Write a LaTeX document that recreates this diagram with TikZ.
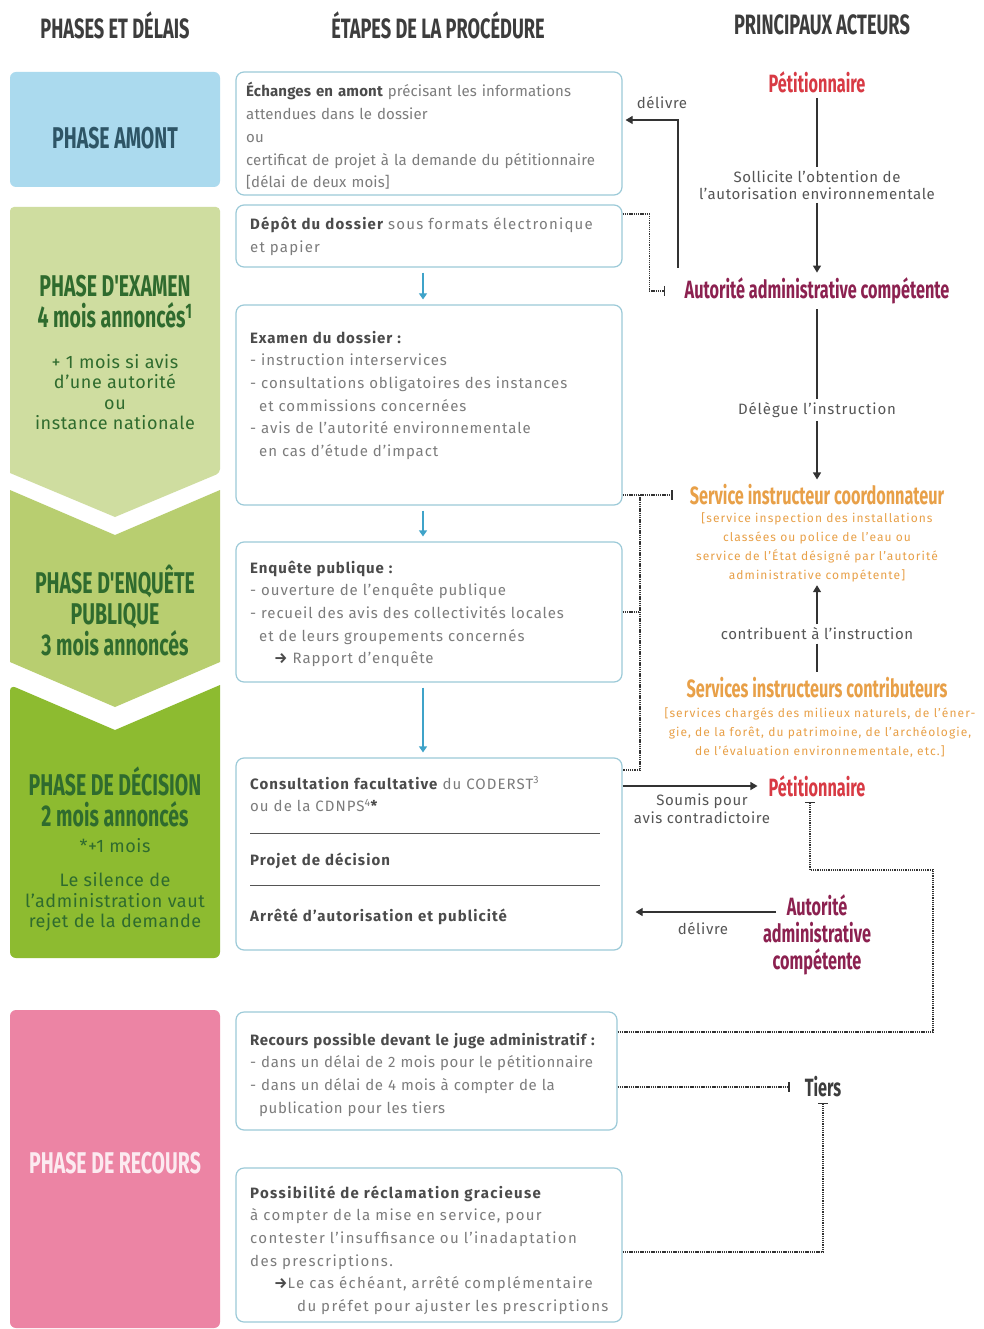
\documentclass[tikz,border=0pt]{standalone}
\usepackage{fontspec}
\setmainfont{Fira Sans}
\newfontfamily\condfont[FakeStretch=0.65]{Fira Sans}
\usetikzlibrary{arrows.meta,positioning}

\definecolor{headgray}{HTML}{3D3D3D}
\definecolor{txtgray}{HTML}{7C7C7C}
\definecolor{boldgray}{HTML}{4B4B4B}
\definecolor{labgray}{HTML}{555555}
\definecolor{boxline}{HTML}{9CCAD8}
\definecolor{amontblue}{HTML}{ABDAEE}
\definecolor{amonttxt}{HTML}{2E5566}
\definecolor{examgreen}{HTML}{CFDDA0}
\definecolor{enqgreen}{HTML}{B8CE70}
\definecolor{decgreen}{HTML}{8DBB30}
\definecolor{phasetxt}{HTML}{2F6B2E}
\definecolor{recpink}{HTML}{EC84A4}
\definecolor{recwhite}{HTML}{FCEAF0}
\definecolor{petired}{HTML}{D83A44}
\definecolor{autormag}{HTML}{8C2150}
\definecolor{servorange}{HTML}{E8A048}
\definecolor{flowblue}{HTML}{3FA3C9}
\definecolor{linedark}{HTML}{333333}

\newcommand{\fort}[1]{\textcolor{boldgray}{\bfseries #1}}

\tikzset{
  coltitle/.style={font=\condfont\bfseries\fontsize{28}{30}\selectfont, text=headgray},
  phasetitle/.style={font=\condfont\bfseries\fontsize{30}{31}\selectfont, align=center},
  phasesmall/.style={font=\addfontfeatures{LetterSpace=3}\fontsize{18}{20.5}\selectfont, align=center, text=phasetxt},
  etape/.style={draw=boxline, line width=1.2pt, rounded corners=8pt, minimum width=386pt, inner sep=0pt},
  etapetxt/.style={anchor=base west, inner sep=0pt, align=left, text width=372pt, text=txtgray, font=\addfontfeatures{LetterSpace=#1}\fontsize{15}{22.7}\selectfont},
  etapetxt/.default=1,
  acteur/.style={font=\condfont\bfseries\fontsize{25}{27}\selectfont, align=center, inner sep=5pt},
  note/.style={font=\addfontfeatures{LetterSpace=4}\fontsize{15}{17}\selectfont, align=center, text=labgray},
  detail/.style={font=\addfontfeatures{LetterSpace=9}\fontsize{12}{19}\selectfont, align=center, text=servorange},
  trait/.style={draw=linedark, line width=1.2pt},
  fleche/.style={draw=linedark, line width=1.2pt, -{Triangle[width=8pt,length=7pt]}},
  flux/.style={draw=flowblue, line width=1.2pt, -{Triangle[width=8pt,length=6pt]}, shorten <=5pt, shorten >=5pt},
  lien/.style={draw=linedark, line width=1.6pt, dash pattern=on 1.3pt off 0.9pt, -{Bar[width=10pt,line width=1.6pt]}},
  lienplain/.style={draw=linedark, line width=1.6pt, dash pattern=on 1.3pt off 0.9pt},
}

\begin{document}
\begin{tikzpicture}[x=1pt,y=-1pt]
\useasboundingbox[fill=white] (0,0) rectangle (984,1329);

% column titles
\node[coltitle] (h1) at (115,25) {PHASES ET DÉLAIS};
\node[coltitle] (h2) at (438,25) {ÉTAPES DE LA PROCÉDURE};
\node[coltitle] (h3) at (822,25) {PRINCIPAUX ACTEURS};

% phases
\fill[amontblue, rounded corners=6pt] (10,72) rectangle (220,187);
\fill[examgreen, rounded corners=4pt] (10,207) -- (220,207) -- (220,473) [sharp corners] -- (115,517) -- (10,473) [rounded corners=4pt] -- cycle;
\fill[enqgreen] (10,490) -- (115,535) -- (220,490) -- (220,662) -- (115,707) -- (10,662) -- cycle;
\fill[decgreen, rounded corners=6pt] (10,685) [sharp corners] -- (115,730) -- (220,685) [rounded corners=6pt] -- (220,958) -- (10,958) -- cycle;
\fill[recpink, rounded corners=6pt] (10,1010) rectangle (220,1328);

\node[phasetitle, text=amonttxt] (pamont) at (115,138) {PHASE AMONT};
\node[phasetitle, text=phasetxt] (pexam) at (115,302) {PHASE D'EXAMEN\\4 mois annoncés\textsuperscript{1}};
\node[phasesmall] (pexamdelai) at (115,392) {+ 1 mois si avis\\d'une autorité\\ou\\instance nationale};
\node[phasetitle, text=phasetxt] (penq) at (115,611) {PHASE D'ENQUÊTE\\PUBLIQUE\\3 mois annoncés};
\node[phasetitle, text=phasetxt] (pdec) at (115,797) {PHASE DE DÉCISION\\2 mois annoncés};
\node[phasesmall] (pdecplus) at (115,846) {*+1 mois};
\node[phasesmall] (pdecsilence) at (115,902) {Le silence de\\l'administration vaut\\rejet de la demande};
\node[phasetitle, text=recwhite] (prec) at (115,1163) {PHASE DE RECOURS};

% etapes
\node[etape, minimum height=123pt] (echanges) at (429,133.5) {};
\node[etapetxt] (echangestxt) at (246,97) {\fort{Échanges en amont} précisant les informations\\attendues dans le dossier\\ou\\certificat de projet à la demande du pétitionnaire\\{[}délai de deux mois{]}};
\node[etape, minimum height=62pt] (depot) at (429,236) {};
\node[etapetxt=8] (depottxt) at (250,230) {\fort{Dépôt du dossier} sous formats électronique\\et papier};
\node[etape, minimum height=200pt] (examen) at (429,405) {};
\node[etapetxt=6] (examentxt) at (250,343) {\fort{Examen du dossier :}\\- instruction interservices\\- consultations obligatoires des instances\\\hspace*{9pt}et commissions concernées\\- avis de l'autorité environnementale\\\hspace*{9pt}en cas d'étude d'impact};
\node[etape, minimum height=140pt] (enquete) at (429,612) {};
\node[etapetxt=6] (enquetetxt) at (250,573) {\fort{Enquête publique :}\\- ouverture de l'enquête publique\\- recueil des avis des collectivités locales\\\hspace*{9pt}et de leurs groupements concernés\\\hspace*{24pt}\textcolor{boldgray}{\bfseries →} Rapport d'enquête};
\node[etape, minimum height=192pt] (decision) at (429,854) {};
\node[etapetxt=7] (consulttxt) at (250,789) {\fort{Consultation facultative} du CODERST\textsuperscript{3}\\ou de la CDNPS\textsuperscript{4}\textcolor{boldgray}{\bfseries*}};
\node[etapetxt=7] (projettxt) at (250,865) {\fort{Projet de décision}};
\node[etapetxt=7] (arretetxt) at (250,921) {\fort{Arrêté d'autorisation et publicité}};
\draw[draw=labgray, line width=0.8pt] (250,833) -- (600,833);
\draw[draw=labgray, line width=0.8pt] (250,885) -- (600,885);
\node[etape, minimum height=118pt, minimum width=381pt] (recours) at (426.5,1071) {};
\node[etapetxt=4] (recourstxt) at (250,1045) {\fort{Recours possible devant le juge administratif :}\\- dans un délai de 2 mois pour le pétitionnaire\\- dans un délai de 4 mois à compter de la\\\hspace*{9pt}publication pour les tiers};
\node[etape, minimum height=154pt] (reclamation) at (429,1245) {};
\node[etapetxt=9] (reclamationtxt) at (250,1198) {\fort{Possibilité de réclamation gracieuse}\\à compter de la mise en service, pour\\contester l'insuffisance ou l'inadaptation\\des prescriptions.\\\hspace*{24pt}\textcolor{boldgray}{\bfseries →}Le cas échéant, arrêté complémentaire\\\hspace*{47pt}du préfet pour ajuster les prescriptions};

\draw[flux] ([xshift=-6pt]depot.south) -- ([xshift=-6pt]examen.north);
\draw[flux] ([xshift=-6pt]examen.south) -- ([xshift=-6pt]enquete.north);
\draw[flux] ([xshift=-6pt]enquete.south) -- ([xshift=-6pt]decision.north);

% acteurs
\node[acteur, text=petired] (petit1) at (817,82) {Pétitionnaire};
\node[note] (sollicite) at (817,185) {Sollicite l'obtention de\\l'autorisation environnementale};
\node[acteur, text=autormag] (autor1) at (817,291) {Autorité administrative compétente};
\node[note, font=\addfontfeatures{LetterSpace=6}\fontsize{15}{17}\selectfont] (delegue) at (817,410) {Délègue l'instruction};
\node[acteur, text=servorange] (servcoord) at (817,495) {Service instructeur coordonnateur};
\node[detail] (servcoordtxt) at (817,547) {{[}service inspection des installations\\classées ou police de l'eau ou\\service de l'État désigné par l'autorité\\administrative compétente{]}};
\node[note] (contrib) at (817,634) {contribuent à l'instruction};
\node[acteur, text=servorange] (servcontrib) at (817,688) {Services instructeurs contributeurs};
\node[detail] (servcontribtxt) at (820,733) {{[}services chargés des milieux naturels, de l'éner-\\gie, de la forêt, du patrimoine, de l'archéologie,\\de l'évaluation environnementale, etc.{]}};
\node[acteur, text=petired] (petit2) at (817,786) {Pétitionnaire};
\node[note, font=\addfontfeatures{LetterSpace=4}\fontsize{15}{18}\selectfont] (soumis) at (702,809) {Soumis pour\\avis contradictoire};
\node[acteur, text=autormag] (autor2) at (817,935) {Autorité\\administrative\\compétente};
\node[note] (delivre2) at (703,929) {délivre};
\node[acteur, text=headgray] (tiers) at (823,1087) {Tiers};
\node[note] (delivre1) at (662,103) {délivre};

\coordinate (dlvpied) at (678,268);
\coordinate (dlvcoin) at (678,120);
\coordinate (jonction) at (640,495);
\coordinate (jbas) at (640,770);
\coordinate (retour) at (933,870);
\coordinate (autorpied) at (776,912);

\draw[trait] (petit1) -- (sollicite);
\draw[fleche] (sollicite) -- (autor1);
\draw[trait] (autor1) -- (delegue);
\draw[fleche] (delegue) -- (servcoord);
\draw[fleche] (contrib) -- (servcoordtxt);
\draw[trait] (contrib) -- (servcontrib);
\draw[fleche, shorten >=3pt] (dlvpied) -- (dlvcoin) -- (echanges.east |- dlvcoin);
\draw[fleche, shorten >=6pt] (decision.east |- petit2) -- (petit2.west);
\draw[fleche, shorten >=13pt] (autorpied) -- (decision.east |- autorpied);

\draw[lien] ([yshift=22pt]depot.east) -| ([xshift=-30pt]autor1.west) -- ([xshift=-14pt]autor1.west);
\draw[lien] (examen.east |- servcoord.west) -- ([xshift=-12pt]servcoord.west);
\draw[lienplain] (jonction) -- (jbas) -- (decision.east |- jbas);
\draw[lienplain] (enquete.east) -- (enquete.east -| jonction);
\draw[lien] ([yshift=39pt]recours.east) -| (retour) -| ([xshift=-7pt]petit2.south);
\draw[lien] (recours.east |- tiers) -- ([xshift=-10pt]tiers.west);
\draw[lien] ([yshift=-7pt]reclamation.east) -| (tiers.south);
\end{tikzpicture}
\end{document}
